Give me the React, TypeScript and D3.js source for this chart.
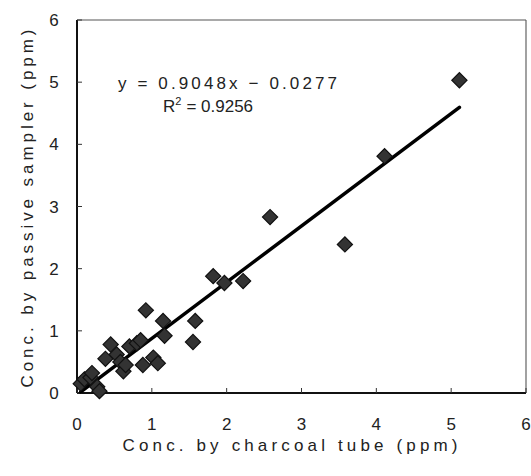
import React from "react";
import * as d3 from "d3";

const charcoal = [0.05, 0.1, 0.18, 0.2, 0.27, 0.3, 0.38, 0.45, 0.53, 0.58, 0.62, 0.65, 0.7, 0.8, 0.85, 0.88, 0.92, 1.02, 1.08, 1.15, 1.17, 1.55, 1.58, 1.82, 1.97, 2.22, 2.58, 3.58, 4.11, 5.11];
const passive = [0.15, 0.22, 0.25, 0.32, 0.1, 0.03, 0.55, 0.78, 0.62, 0.5, 0.35, 0.45, 0.75, 0.8, 0.85, 0.45, 1.33, 0.57, 0.48, 1.16, 0.92, 0.82, 1.16, 1.88, 1.77, 1.8, 2.83, 2.39, 3.81, 5.03];
const slope = 0.9048;
const intercept = -0.0277;
const xTicks = [0, 1, 2, 3, 4, 5, 6];
const yTicks = [0, 1, 2, 3, 4, 5, 6];
const xTitle = "Conc. by charcoal tube (ppm)";
const yTitle = "Conc. by passive sampler (ppm)";
const eqText = "y = 0.9048x \u2212 0.0277";
const r2Value = "= 0.9256";

export default function App() {
  const W = 531, H = 476;
  const x = d3.scaleLinear().domain([0, 6]).range([77, 526]);
  const y = d3.scaleLinear().domain([0, 6]).range([393, 20]);
  const font = "'Liberation Sans', Arial, Helvetica, sans-serif";
  const pts = charcoal.map((c, i) => ({ c, p: passive[i] }));
  const xmin = d3.min(charcoal)!, xmax = d3.max(charcoal)!;
  const line = d3.line<number>().x(d => x(d)).y(d => y(slope * d + intercept));
  const diamond = d3.symbol().type(d3.symbolSquare).size(115)()!;
  return (
    <svg width={W} height={H} style={{ position: "absolute", left: 0, top: 0, background: "#fff" }} fontFamily={font}>
      {/* frame */}
      <line x1={x(0)} x2={x(6)} y1={y(6)} y2={y(6)} stroke="#555" strokeWidth={1.1} />
      <line x1={x(6)} x2={x(6)} y1={y(6)} y2={y(0)} stroke="#555" strokeWidth={1.1} />
      <line x1={x(0)} x2={x(6)} y1={y(0)} y2={y(0)} stroke="#111" strokeWidth={2} />
      <line x1={x(0)} x2={x(0)} y1={y(6)} y2={y(0)} stroke="#111" strokeWidth={2} />
      {/* ticks */}
      {xTicks.map(t => (
        <g key={"x" + t}>
          <line x1={x(t)} x2={x(t)} y1={y(0)} y2={y(0) - 5} stroke="#333" strokeWidth={1} />
          <text x={x(t)} y={y(0) + 37} textAnchor="middle" fontSize={17} fill="#222">{t}</text>
        </g>
      ))}
      {yTicks.map(t => (
        <g key={"y" + t}>
          <line x1={x(0)} x2={x(0) + 5} y1={y(t)} y2={y(t)} stroke="#333" strokeWidth={1} />
          <text x={54} y={y(t) + 6} textAnchor="middle" fontSize={17} fill="#222">{t}</text>
        </g>
      ))}
      {/* titles */}
      <text x={290} y={451} textAnchor="middle" fontSize={17} fill="#222" textLength={335} lengthAdjust="spacing">{xTitle}</text>
      <text transform={`translate(33,${(y(0) + y(6)) / 2 + 2}) rotate(-90)`} textAnchor="middle" fontSize={17} fill="#222" textLength={358} lengthAdjust="spacing">{yTitle}</text>
      {/* regression line */}
      <path d={line([xmin, xmax])!} stroke="#000" strokeWidth={3.5} fill="none" strokeLinecap="round" />
      {/* points */}
      {pts.map((d, i) => (
        <path key={i} d={diamond} transform={`translate(${x(d.c)},${y(d.p)}) rotate(45)`} fill="#333" stroke="#111" strokeWidth={1.2} />
      ))}
      {/* equation */}
      <text x={118} y={89} fontSize={17} fill="#222" textLength={219} lengthAdjust="spacing">{eqText}</text>
      <text x={163} y={112} fontSize={17} fill="#222">
        R<tspan dy={-7} fontSize={11}>2</tspan><tspan dy={7} dx={5}>{r2Value}</tspan>
      </text>
    </svg>
  );
}
